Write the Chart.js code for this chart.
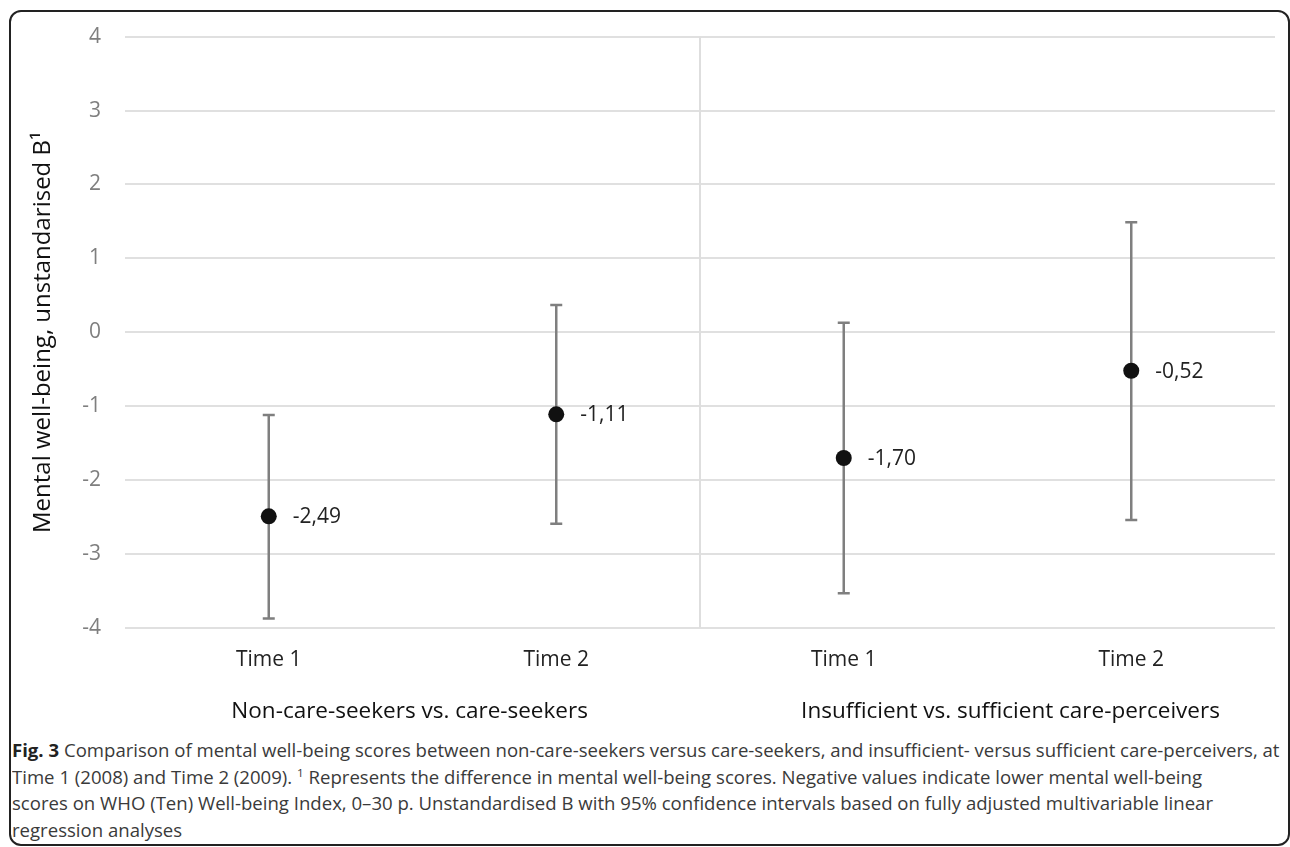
<!DOCTYPE html>
<html>
<head>
<meta charset="utf-8">
<script src="https://cdn.jsdelivr.net/npm/chart.js@4.4.1/dist/chart.umd.min.js"></script>
<style>
  html, body { margin: 0; padding: 0; background: #fff; overflow: hidden; }
  body { width: 1290px; height: 847px; position: relative; }
  .frame {
    position: absolute; left: 9px; top: 10px; width: 1281px; height: 836px;
    border: 2px solid #222; border-radius: 12px; box-sizing: border-box;
  }
  #wrap { position: absolute; left: 0; top: 0; width: 1290px; height: 735px; }
  .caption {
    position: absolute; left: 12px; top: 737px;
    font-family: "Open Sans", sans-serif; font-size: 17.5px; color: #3a3a3a;
    line-height: 26.5px;
  }
  .caption div { height: 26.5px; }
  .caption span.ln { display: inline-block; white-space: nowrap; transform-origin: left center; }
  .caption b { color: #222; }
</style>
</head>
<body>
<div class="frame"></div>
<div id="wrap"><canvas id="chart"></canvas></div>
<div class="caption" id="caption">
  <div><span class="ln" id="first" data-w="1264"><b>Fig. 3</b> Comparison of mental well-being scores between non-care-seekers versus care-seekers, and insufficient- versus sufficient care-perceivers, at</span></div>
  <div><span class="ln">Time 1 (2008) and Time 2 (2009). <sup style="font-size:11px;vertical-align:7px;line-height:0">1</sup> Represents the difference in mental well-being scores. Negative values indicate lower mental well-being</span></div>
  <div><span class="ln" id="ref" data-w="1201">scores on WHO (Ten) Well-being Index, 0–30 p. Unstandardised B with 95% confidence intervals based on fully adjusted multivariable linear</span></div>
  <div><span class="ln">regression analyses</span></div>
</div>
<script>
const categories = ["Time 1", "Time 2", "Time 1", "Time 2"];
const estimates = [-2.49, -1.11, -1.70, -0.52];
const lowerCI = [-3.87, -2.59, -3.53, -2.54];
const upperCI = [-1.12, 0.37, 0.13, 1.49];
const groups = ["Non-care-seekers vs. care-seekers", "Insufficient vs. sufficient care-perceivers"];
const yTicks = [-4, -3, -2, -1, 0, 1, 2, 3, 4];

const chartFont = "'Open Sans', sans-serif";

const errorBars = {
  id: 'errorBars',
  beforeDatasetsDraw(chart) {
    const ctx = chart.ctx;
    const x = chart.scales.x, y = chart.scales.y;
    const area = chart.chartArea;
    ctx.save();
    // separator between the two comparisons
    const sep = (x.getPixelForValue(1) + x.getPixelForValue(2)) / 2;
    ctx.strokeStyle = '#dedede';
    ctx.lineWidth = 2;
    ctx.beginPath();
    ctx.moveTo(sep, area.top);
    ctx.lineTo(sep, area.bottom);
    ctx.stroke();

    ctx.strokeStyle = '#7f7f7f';
    ctx.lineWidth = 2.5;
    categories.forEach((c, i) => {
      const px = x.getPixelForValue(i);
      const top = y.getPixelForValue(upperCI[i]);
      const bot = y.getPixelForValue(lowerCI[i]);
      ctx.beginPath();
      ctx.moveTo(px, top); ctx.lineTo(px, bot);
      ctx.moveTo(px - 6, top); ctx.lineTo(px + 6, top);
      ctx.moveTo(px - 6, bot); ctx.lineTo(px + 6, bot);
      ctx.stroke();
    });
    ctx.restore();
  },
  afterDatasetsDraw(chart) {
    const ctx = chart.ctx;
    const x = chart.scales.x, y = chart.scales.y;
    ctx.save();
    ctx.fillStyle = '#222';
    ctx.font = '21px ' + chartFont;
    ctx.textBaseline = 'middle';
    ctx.textAlign = 'left';
    estimates.forEach((v, i) => {
      const label = v.toFixed(2).replace('.', ',');
      ctx.fillText(label, x.getPixelForValue(i) + 24, y.getPixelForValue(v) + 1);
    });
    // group labels under the category ticks
    ctx.font = '22.5px ' + chartFont;
    ctx.textAlign = 'center';
    ctx.fillStyle = '#111';
    const centers = [0.49, 2.58];
    groups.forEach((g, i) => {
      ctx.fillText(g, x.getPixelForValue(centers[i]), 712);
    });
    ctx.restore();
  }
};

new Chart(document.getElementById('chart'), {
  type: 'line',
  data: {
    labels: categories,
    datasets: [{
      data: estimates,
      showLine: false,
      pointRadius: 8,
      pointHoverRadius: 8,
      pointBackgroundColor: '#111',
      pointBorderColor: '#111',
      pointBorderWidth: 0
    }]
  },
  options: {
    responsive: true,
    maintainAspectRatio: false,
    animation: false,
    layout: { padding: { top: 36, right: 15, left: 29, bottom: 0 } },
    plugins: { legend: { display: false }, tooltip: { enabled: false } },
    scales: {
      x: {
        type: 'category',
        offset: true,
        grid: { display: false, drawTicks: false },
        border: { display: false },
        ticks: { color: '#222', font: { family: chartFont, size: 21 }, padding: 19 },
        afterFit(scale) { scale.height = 107; }
      },
      y: {
        min: -4,
        max: 4,
        afterBuildTicks(scale) { scale.ticks = yTicks.map(v => ({ value: v })); },
        grid: { color: '#e0e0e0', lineWidth: 2, drawTicks: false },
        border: { display: false },
        ticks: { color: '#7f7f7f', font: { family: chartFont, size: 21 }, padding: 24 },
        title: {
          display: true,
          text: 'Mental well-being, unstandarised B¹',
          color: '#111',
          font: { family: chartFont, size: 24 },
          padding: { top: 0, bottom: 0 }
        },
        afterFit(scale) { scale.width = 96; }
      }
    }
  },
  plugins: [errorBars]
});

// caption: condensed uniformly, first line justified
const refLine = document.getElementById('ref');
const s = (+refLine.dataset.w) / refLine.getBoundingClientRect().width;
const first = document.getElementById('first');
const spaces = (first.textContent.match(/ /g) || []).length;
const extra = Math.max(0, ((+first.dataset.w) / s - first.getBoundingClientRect().width) / spaces);
first.style.wordSpacing = extra + 'px';
document.querySelectorAll('#caption span.ln').forEach(d => {
  d.style.transform = 'scaleX(' + s + ')';
});
</script>
</body>
</html>
